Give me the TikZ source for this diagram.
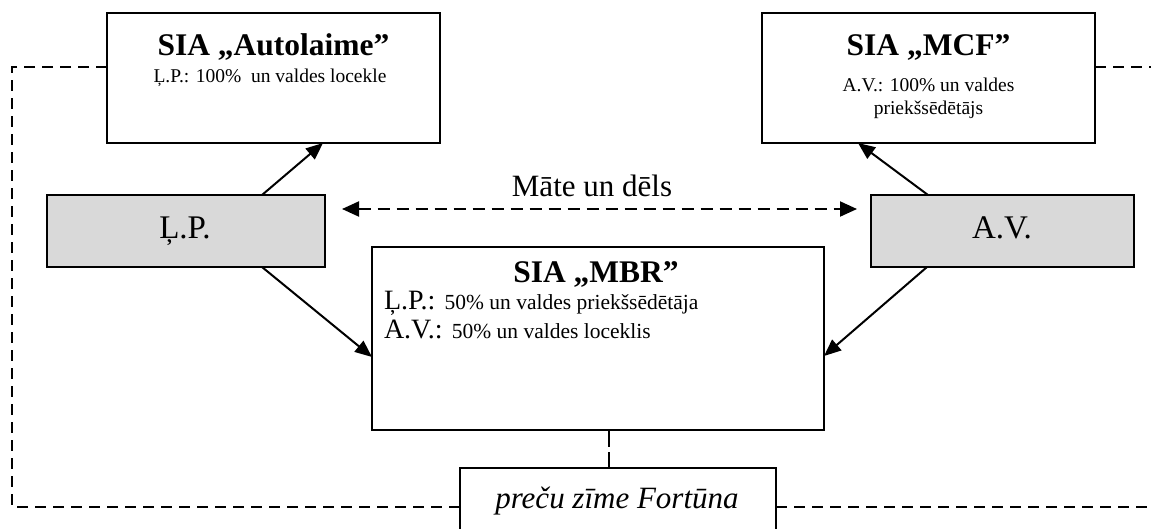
\documentclass[tikz,border=0pt]{standalone}
\usepackage{fontspec}
\setmainfont{Liberation Serif}
\usetikzlibrary{arrows.meta}
\definecolor{boxgrey}{HTML}{D9D9D9}
\begin{document}
\begin{tikzpicture}[x=1pt,y=-1pt,
  boxs/.style={draw=black,line width=2pt,inner sep=0pt,outer sep=0pt},
  greybox/.style={boxs,fill=boxgrey},
  arr/.style={line width=2pt,-{Triangle[length=17pt,width=14pt]}},
  darr/.style={line width=2pt,dash pattern=on 12pt off 7pt,{Triangle[length=17pt,width=15pt]}-{Triangle[length=17pt,width=15pt]}},
  dsh/.style={line width=1.7pt,dash pattern=on 11pt off 7pt},
  txt/.style={inner sep=0pt,outer sep=0pt,anchor=base},
  ttl/.style={txt,font=\fontsize{31.5}{36}\selectfont\bfseries},
  sub/.style={txt,font=\fontsize{19.5}{22}\selectfont},
  big/.style={txt,font=\fontsize{33}{38}\selectfont},
]
\useasboundingbox (0,0) rectangle (1151,528);

% boxes
\node[boxs,minimum width=333pt,minimum height=130pt] (auto) at (273.5,78) {};
\node[boxs,minimum width=333pt,minimum height=130pt] (mcf) at (928.5,78) {};
\node[greybox,minimum width=278pt,minimum height=72pt] (lp) at (186,231) {};
\node[greybox,minimum width=263pt,minimum height=72pt] (av) at (1002.5,231) {};
\node[boxs,minimum width=452pt,minimum height=183pt] (mbr) at (598,338.5) {};
\node[boxs,minimum width=316pt,minimum height=76pt] (fort) at (618,506) {};

% texts
\node[ttl] (autot) at (273.5,55) {SIA „Autolaime”};
\node[sub] (autos) at (270,82) {Ļ.P.: 100\%\ \ un valdes locekle};
\node[ttl] (mcft) at (928.5,55) {SIA „MCF”};
\node[sub] (mcfs1) at (928.5,91) {A.V.: 100\% un valdes};
\node[sub] (mcfs2) at (928.5,114) {priekšsēdētājs};
\node[big] (lpt) at (185,238) {Ļ.P.};
\node[big] (avt) at (1002,238) {A.V.};
\node[txt,font=\fontsize{31}{36}\selectfont] (mate) at (592,196) {Māte un dēls};
\node[ttl] (mbrt) at (596,282) {SIA „MBR”};
\node[txt,anchor=base west] (mbr1) at (384,309) {\fontsize{28}{30}\selectfont Ļ.P.: \fontsize{21.5}{24}\selectfont 50\% un valdes priekšsēdētāja};
\node[txt,anchor=base west] (mbr2) at (384,338) {\fontsize{28}{30}\selectfont A.V.: \fontsize{21.5}{24}\selectfont 50\% un valdes loceklis};
\node[txt,font=\fontsize{31}{34}\selectfont\itshape] (fortt) at (617,508) {preču zīme Fortūna};

% arrows
\draw[arr] ([xshift=215pt]lp.north west) -- ([xshift=216pt]auto.south west);
\draw[arr] ([xshift=215pt]lp.south west) -- ([yshift=-110pt]mbr.north west);
\draw[arr] ([xshift=57pt]av.north west) -- ([xshift=96pt]mcf.south west);
\draw[arr] ([xshift=56pt]av.south west) -- ([yshift=-109pt]mbr.north east);
\draw[darr] ([xshift=17pt,yshift=-14pt]lp.north east) -- ([xshift=-14pt,yshift=-14pt]av.north west);

% dashed links
\coordinate (tl) at (12,67);
\coordinate (bl) at (12,507);
\coordinate (tr) at (1165,67);
\coordinate (br) at (1165,507);
\draw[dsh] ([yshift=11pt]auto.west) -- (tl) -- (bl) -- ([yshift=-1pt]fort.west);
\draw[dsh] ([yshift=11pt]mcf.east) -- (tr);
\draw[dsh] ([yshift=-1pt]fort.east) -- (br);
\draw[dsh,dash pattern=on 17pt off 5pt] ([xshift=11pt]mbr.south) -- ([xshift=-9pt]fort.north);
\end{tikzpicture}
\end{document}
